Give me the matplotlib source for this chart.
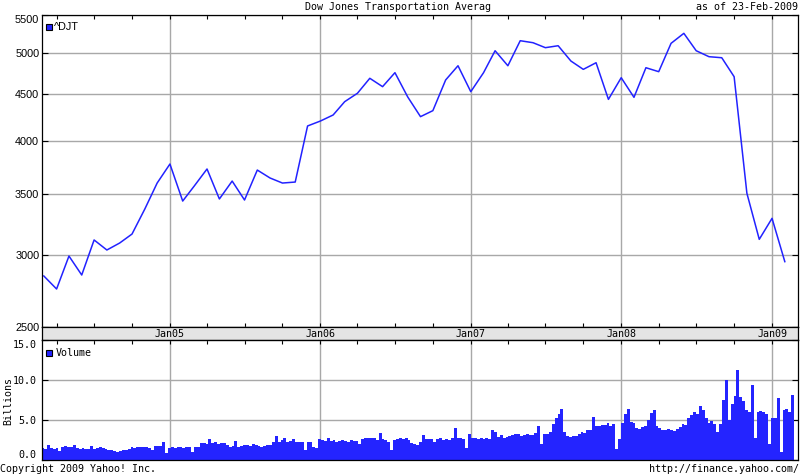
import pandas as pd
import matplotlib
matplotlib.use('Agg')
import matplotlib.pyplot as plt
import matplotlib.dates as mdates
from matplotlib.patches import Rectangle
from matplotlib.ticker import NullLocator

W, H = 800, 475

# monthly closes of ^DJT (first trading day of each month)
months = pd.date_range('2004-03-01', '2009-02-01', freq='MS')
djt_close = [
    2844, 2752, 2991, 2851, 3115, 3037, 3091, 3162, 3368, 3597,
    3774, 3437, 3570, 3727, 3455, 3615, 3446, 3717, 3643, 3597,
    3606, 4155, 4207, 4272, 4418, 4513, 4687, 4589, 4754, 4471,
    4254, 4319, 4667, 4838, 4531, 4754, 5025, 4838, 5154, 5128,
    5064, 5089, 4896, 4794, 4875, 4444, 4694, 4467, 4814, 4766,
    5120, 5251, 5025, 4950, 4937, 4706, 3505, 3120, 3290, 2949,
]

# weekly volume, billions of shares
weeks = pd.date_range('2004-02-27', periods=261, freq='7D')
volume_bn = [
    1.45, 1.4, 1.9, 1.45, 1.4, 1.45, 1.1, 1.6, 1.7, 1.65,
    1.65, 1.85, 1.5, 1.4, 1.45, 1.35, 1.4, 1.7, 1.4, 1.45,
    1.6, 1.5, 1.35, 1.3, 1.2, 1.1, 0.95, 1.15, 1.2, 1.25,
    1.4, 1.6, 1.5, 1.65, 1.6, 1.6, 1.65, 1.55, 1.2, 1.7,
    1.75, 1.8, 2.3, 0.85, 1.55, 1.6, 1.5, 1.65, 1.6, 1.55,
    1.6, 1.65, 1.0, 1.6, 1.6, 2.1, 2.15, 2.0, 2.6, 2.1,
    2.2, 2.05, 2.1, 2.15, 1.9, 1.6, 1.7, 2.4, 1.6, 1.7,
    1.85, 1.9, 1.8, 1.95, 1.85, 1.7, 1.6, 1.8, 1.9, 1.85,
    2.2, 3.0, 2.3, 2.5, 2.8, 2.3, 2.4, 2.6, 2.2, 2.3,
    2.2, 1.2, 2.2, 2.3, 1.6, 1.45, 2.6, 2.5, 2.4, 2.7,
    2.4, 2.5, 2.3, 2.35, 2.45, 2.4, 2.3, 2.5, 2.35, 2.4,
    2.0, 2.6, 2.8, 2.7, 2.8, 2.7, 2.5, 3.4, 2.6, 2.5,
    2.3, 1.2, 2.5, 2.6, 2.7, 2.6, 2.7, 2.5, 2.1, 1.95,
    1.9, 2.2, 3.1, 2.6, 2.6, 2.6, 2.3, 2.6, 2.7, 2.5,
    2.6, 2.5, 2.7, 4.0, 2.7, 2.7, 2.6, 1.45, 3.2, 2.8,
    2.7, 2.6, 2.8, 2.6, 2.7, 2.6, 3.8, 3.5, 2.9, 3.1,
    2.8, 2.9, 3.0, 3.1, 3.2, 3.2, 3.0, 3.1, 3.3, 3.1,
    3.1, 3.4, 4.3, 2.0, 3.3, 3.2, 3.5, 4.5, 5.3, 5.8,
    6.4, 3.5, 3.0, 2.9, 3.0, 3.0, 3.3, 3.5, 3.4, 3.7,
    3.8, 5.4, 4.2, 4.3, 4.4, 4.4, 4.6, 4.3, 4.5, 1.4,
    2.6, 4.6, 5.7, 6.4, 4.8, 4.6, 4.0, 3.9, 4.1, 4.3,
    5.0, 5.9, 6.2, 4.2, 4.0, 3.8, 3.7, 3.9, 3.8, 3.6,
    3.9, 4.1, 4.5, 4.4, 5.2, 5.6, 6.0, 5.8, 6.8, 6.3,
    5.2, 4.6, 4.9, 4.5, 3.5, 4.5, 7.5, 10.0, 5.0, 7.0,
    8.0, 11.3, 7.9, 7.4, 6.2, 6.0, 9.4, 2.7, 6.0, 6.1,
    6.0, 5.8, 2.0, 5.3, 5.2, 7.7, 1.0, 6.2, 6.4, 6.0,
    8.1,
]

year_ticks = pd.to_datetime(['2005-01-01', '2006-01-01', '2007-01-01',
                             '2008-01-01', '2009-01-01'])
year_labels = ['Jan05', 'Jan06', 'Jan07', 'Jan08', 'Jan09']
quarter_ticks = pd.date_range('2004-04-01', '2009-01-01', freq='QS')
price_ticks = [2500, 3000, 3500, 4000, 4500, 5000, 5500]
vol_ticks = [0, 5, 10, 15]
vol_labels = ['0.0', '5.0', '10.0', '15.0']

x_start = mdates.date2num(pd.Timestamp('2004-02-25 14:00'))
x_end = mdates.date2num(pd.Timestamp('2009-03-05'))

MONO = 'DejaVu Sans Mono'
SANS = 'Liberation Sans'
BLUE = '#2222ff'
GRID = '#a8a8a8'


def px_axes(fig, left, top, right, bottom):
    return fig.add_axes([left / W, 1 - bottom / H, (right - left) / W, (bottom - top) / H])


fig = plt.figure(figsize=(W / 100, H / 100), dpi=100)

# price panel
ax = px_axes(fig, 42, 15, 798, 327)
ax.plot(months, djt_close, color=BLUE, lw=1.1)
ax.set_yscale('log')
ax.set_ylim(2500, 5500)
ax.set_yticks(price_ticks)
ax.set_yticklabels([str(v) for v in price_ticks], fontsize=7.8, family=SANS)
ax.yaxis.set_minor_locator(NullLocator())
ax.set_xlim(x_start, x_end)
ax.set_xticks(year_ticks)
ax.set_xticks(quarter_ticks, minor=True)
ax.tick_params(axis='x', which='both', direction='in', length=3, top=True,
               bottom=True, labelbottom=False, width=0.8)
ax.tick_params(axis='y', direction='in', length=4, left=True, right=True,
               pad=2, width=0.8)
ax.grid(True, which='major', color=GRID, lw=1)
ax.set_axisbelow(True)
labs = ax.get_yticklabels()
labs[-1].set_verticalalignment('top')
for s in ax.spines.values():
    s.set_linewidth(0.9)

# date band
band = px_axes(fig, 42, 327, 798, 340)
band.set_facecolor('#e4e4e4')
band.set_xlim(x_start, x_end)
band.set_xticks([])
band.set_yticks([])
for d, lab in zip(year_ticks, year_labels):
    band.text(mdates.date2num(d), 0.45, lab, transform=band.get_xaxis_transform(),
              ha='center', va='center', fontsize=7.2, family=MONO)
for s in band.spines.values():
    s.set_linewidth(0.9)

# volume panel
axv = px_axes(fig, 42, 340, 798, 460)
axv.bar(weeks, volume_bn, width=7, color='#2424ff', linewidth=0)
axv.set_ylim(0, 15)
axv.set_yticks(vol_ticks)
axv.set_yticklabels(vol_labels, fontsize=7.2, family=MONO)
axv.set_xlim(x_start, x_end)
axv.set_xticks(year_ticks)
axv.set_xticks(quarter_ticks, minor=True)
axv.tick_params(axis='x', which='both', direction='in', length=3, top=True,
                bottom=False, labelbottom=False, width=0.8)
axv.tick_params(axis='y', direction='in', length=4, left=True, right=True,
                pad=4, width=0.8)
axv.grid(True, which='major', color=GRID, lw=1)
axv.set_axisbelow(True)
vl = axv.get_yticklabels()
vl[0].set_verticalalignment('bottom')
vl[-1].set_verticalalignment('top')
for s in axv.spines.values():
    s.set_linewidth(0.9)

# legends
fig.add_artist(Rectangle((46 / W, 1 - 30 / H), 6 / W, 6 / H, transform=fig.transFigure,
                         facecolor=BLUE, edgecolor='black', lw=0.8))
fig.text(54 / W, 1 - 27 / H, '^DJT', fontsize=7.8, family=SANS, va='center')
fig.add_artist(Rectangle((46 / W, 1 - 356 / H), 6 / W, 6 / H, transform=fig.transFigure,
                         facecolor=BLUE, edgecolor='black', lw=0.8))
fig.text(56 / W, 1 - 353 / H, 'Volume', fontsize=7.2, family=MONO, va='center')

# titles and footers
fig.text(398 / W, 1 - 7 / H, 'Dow Jones Transportation Averag', fontsize=7.2,
         family=MONO, ha='center', va='center')
fig.text(798 / W, 1 - 7 / H, 'as of 23-Feb-2009', fontsize=7.2, family=MONO,
         ha='right', va='center')
fig.text(0, 1 - 469 / H, 'Copyright 2009 Yahoo! Inc.', fontsize=7.2, family=MONO,
         ha='left', va='center')
fig.text(799 / W, 1 - 469 / H, 'http://finance.yahoo.com/', fontsize=7.2, family=MONO,
         ha='right', va='center')
fig.text(8 / W, 1 - 401 / H, 'Billions', fontsize=7.2, family=MONO, rotation=90,
         ha='center', va='center')

fig.savefig('out.png', dpi=100)
